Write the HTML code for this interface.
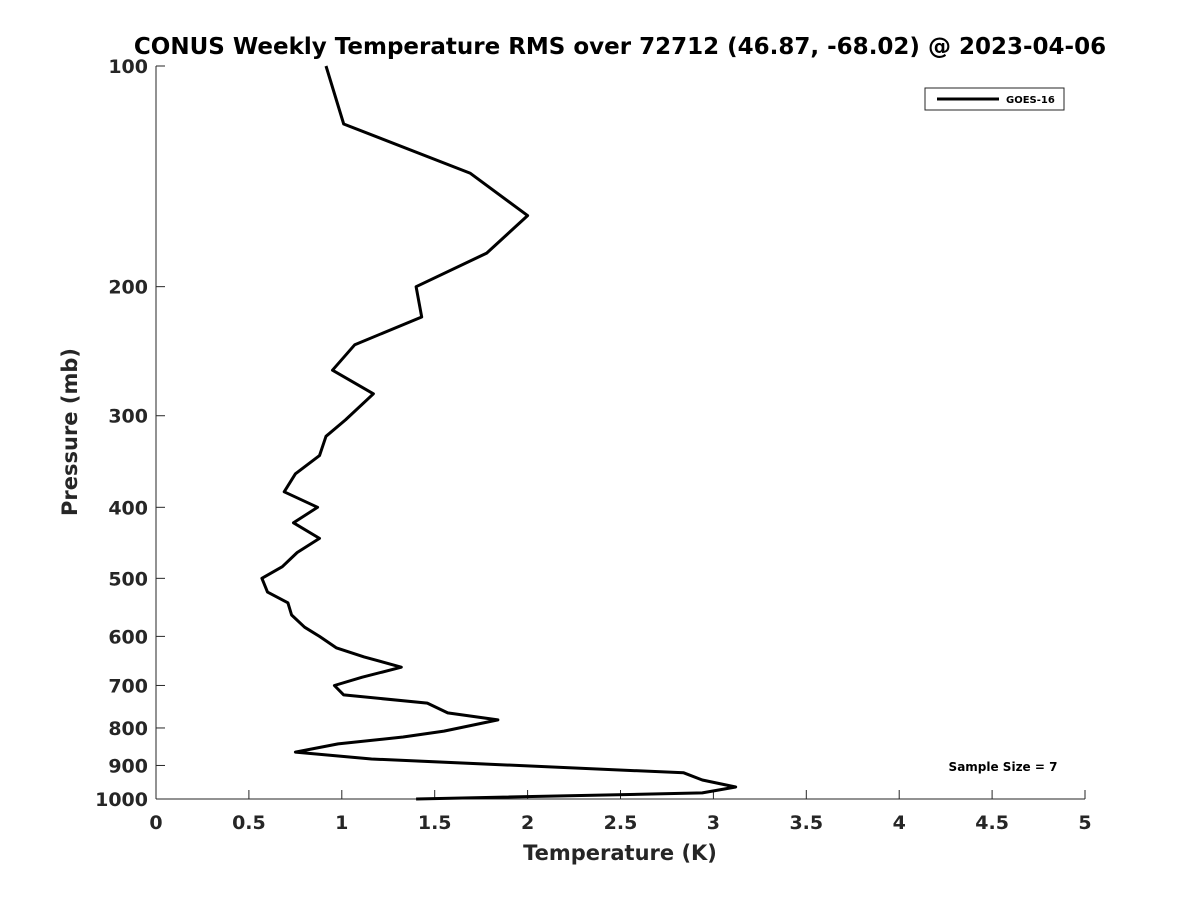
<!DOCTYPE html>
<html><head><meta charset="utf-8"><style>
body{margin:0;background:#fff;}
svg text{font-family:"DejaVu Sans","Liberation Sans",sans-serif;font-weight:bold;fill:#262626;}
</style></head><body>
<svg id="chart" width="1200" height="900" xmlns="http://www.w3.org/2000/svg">
<text x="620" y="54" font-size="23" text-anchor="middle" style="fill:#000">CONUS Weekly Temperature RMS over 72712 (46.87, -68.02) @ 2023-04-06</text>
<g id="axes"></g>
<text x="620" y="860" font-size="21" text-anchor="middle">Temperature (K)</text>
<text transform="translate(77,432) rotate(-90)" font-size="21" text-anchor="middle">Pressure (mb)</text>
<path id="series" fill="none" stroke="#000" stroke-width="3" stroke-linejoin="round"/>
<g>
<rect x="925" y="88" width="139" height="22" fill="#fff" stroke="#262626" stroke-width="1"/>
<line x1="937" y1="99" x2="999" y2="99" stroke="#000" stroke-width="3"/>
<text x="1006" y="103" font-size="10" style="fill:#000">GOES-16</text>
</g>
<text x="1003" y="771" font-size="12" text-anchor="middle" style="fill:#000">Sample Size = 7</text>
</svg>
<script>
const temps=[0.915,1.01,1.69,2.0,1.78,1.40,1.43,1.07,0.95,1.17,1.02,0.915,0.88,0.75,0.69,0.87,0.74,0.88,0.76,0.68,0.57,0.60,0.71,0.73,0.80,0.88,0.97,1.12,1.32,1.11,0.96,1.01,1.46,1.57,1.84,1.55,1.33,0.98,0.75,1.16,2.84,2.94,3.12,2.94,1.40];
const pressures=[100,120,140,160,180,200,220,240,260,280,304,320,340,360,381,400,420,441,461,482,500,522,540,561,583,600,622,640,661,682,700,721,740,763,780,808,823,841,863,882,921,942,963,981,1000];
const xTicks=[0,0.5,1,1.5,2,2.5,3,3.5,4,4.5,5];
const xTickLabels=["0","0.5","1","1.5","2","2.5","3","3.5","4","4.5","5"];
const yTicks=[100,200,300,400,500,600,700,800,900,1000];
const X0=156,X1=1085,Y0=66,Y1=799;
const xs=v=>X0+(v-0)/(5-0)*(X1-X0);
const ys=p=>Y0+(Math.log10(p)-2)/(3-2)*(Y1-Y0);
const NS="http://www.w3.org/2000/svg";
const ax=document.getElementById('axes');
function mk(t,a){const e=document.createElementNS(NS,t);for(const k in a)e.setAttribute(k,a[k]);ax.appendChild(e);return e;}
let l=mk('line',{x1:X0,y1:Y0,x2:X0,y2:Y1,stroke:'#262626','stroke-width':1});


l=mk('line',{x1:X0,y1:Y1,x2:X1,y2:Y1,stroke:'#262626','stroke-width':1});


xTicks.forEach((v,i)=>{
 const x=xs(v);
 const t=mk('line',{x1:x,y1:Y1,x2:x,y2:Y1-9,stroke:'#262626','stroke-width':1});
 
 
 const tx=mk('text',{x:x,y:Y1+30,'font-size':19,'text-anchor':'middle'});
 tx.textContent=xTickLabels[i];
 
 
});
yTicks.forEach(p=>{
 const y=ys(p);
 const t=mk('line',{x1:X0,y1:y,x2:X0+9,y2:y,stroke:'#262626','stroke-width':1});
 
 
 const tx=mk('text',{x:X0-8,y:y+7,'font-size':19,'text-anchor':'end'});
 tx.textContent=String(p);
 
 
});
document.getElementById('series').setAttribute('d',temps.map((t,i)=>(i?'L':'M')+xs(t).toFixed(1)+','+ys(pressures[i]).toFixed(1)).join(''));
</script>
</body></html>
